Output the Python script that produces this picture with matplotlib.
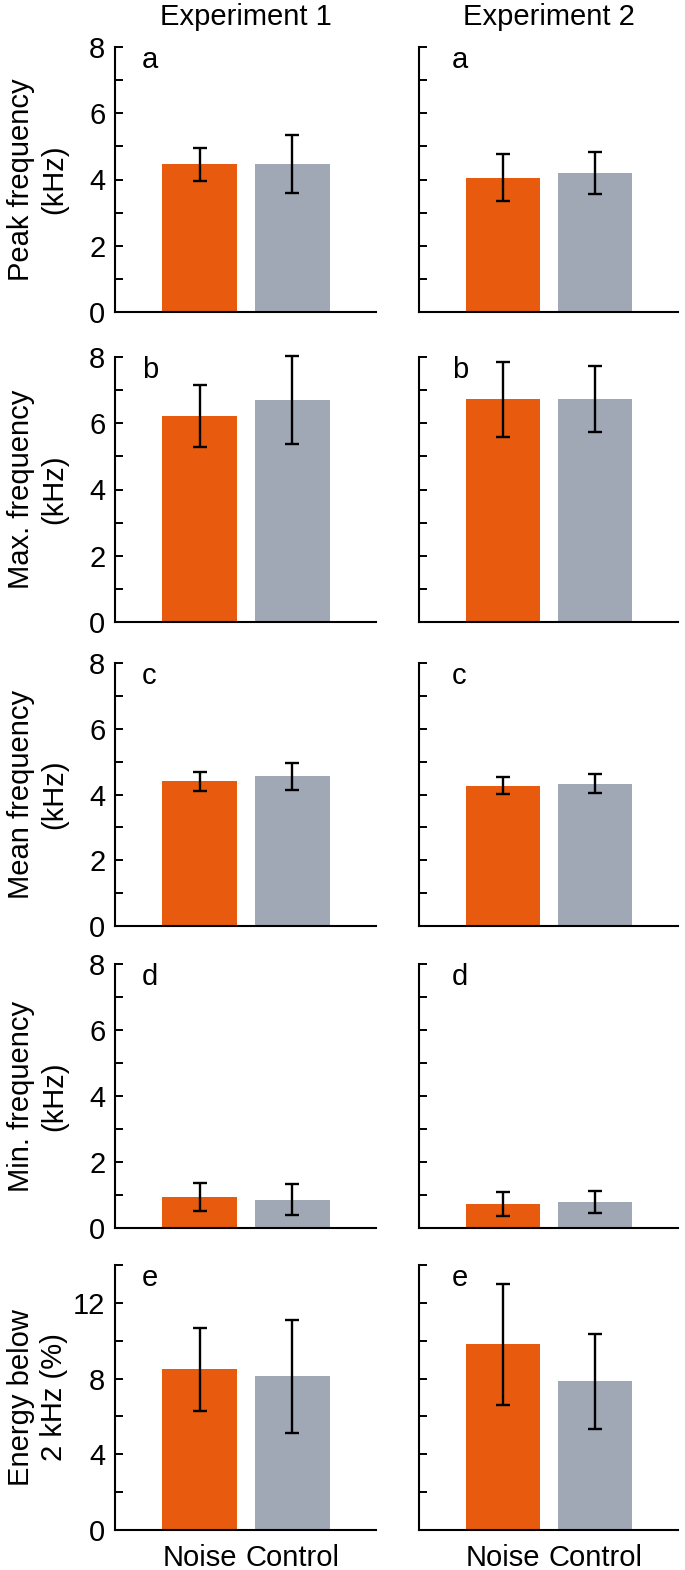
import matplotlib.pyplot as plt
from matplotlib.ticker import MultipleLocator

plt.rcParams['font.family'] = ['Liberation Sans', 'DejaVu Sans']

# Data
groups = ["Noise", "Control"]
panel_letters = ["a", "b", "c", "d", "e"]
ylabels = ["Peak frequency\n(kHz)", "Max. frequency\n(kHz)", "Mean frequency\n(kHz)",
           "Min. frequency\n(kHz)", "Energy below\n2 kHz (%)"]
columns = ["Experiment 1", "Experiment 2"]

exp1_noise = [4.46, 6.22, 4.40, 0.94, 8.48]
exp1_noise_err = [0.50, 0.93, 0.28, 0.43, 2.2]
exp1_control = [4.46, 6.71, 4.55, 0.86, 8.11]
exp1_control_err = [0.87, 1.33, 0.40, 0.46, 3.0]
exp2_noise = [4.05, 6.73, 4.27, 0.72, 9.82]
exp2_noise_err = [0.71, 1.13, 0.26, 0.37, 3.2]
exp2_control = [4.19, 6.73, 4.33, 0.79, 7.85]
exp2_control_err = [0.63, 0.99, 0.29, 0.33, 2.5]

colors = ['#E85A0E', '#A0A7B5']
FS = 21

W, H = 685, 1570
fig = plt.figure(figsize=(W / 100, H / 100), dpi=100)

# panel pixel boxes (top, bottom) per row, (left, right) per column
rows_px = [(47, 312), (357, 622), (663, 926), (964, 1228), (1265, 1530)]
cols_px = [(115, 376), (419, 678)]
letter_x = [0.103, 0.127]

data = [(exp1_noise, exp1_noise_err, exp1_control, exp1_control_err),
        (exp2_noise, exp2_noise_err, exp2_control, exp2_control_err)]

for c, (x0, x1) in enumerate(cols_px):
    noise, noise_err, ctrl, ctrl_err = data[c]
    for r, (y0, y1) in enumerate(rows_px):
        ax = fig.add_axes([x0 / W, 1 - y1 / H, (x1 - x0) / W, (y1 - y0) / H])
        bars = ax.bar([0, 1], [noise[r], ctrl[r]], width=0.80, color=colors,
                      yerr=[noise_err[r], ctrl_err[r]], capsize=4.7,
                      error_kw=dict(elinewidth=1.7, capthick=1.7, ecolor='black'))
        for art in bars.errorbar.lines:
            for a in (art if isinstance(art, tuple) else [art]):
                if a is not None:
                    a.set_clip_on(False)
        ax.set_xlim(-0.91, 1.9)
        for s in ['top', 'right']:
            ax.spines[s].set_visible(False)
        for s in ['left', 'bottom']:
            ax.spines[s].set_linewidth(1.5)
        if r == 4:
            ax.set_ylim(0, 14)
            ax.yaxis.set_major_locator(MultipleLocator(4))
            ax.yaxis.set_minor_locator(MultipleLocator(2))
        else:
            ax.set_ylim(0, 8)
            ax.yaxis.set_major_locator(MultipleLocator(2))
            ax.yaxis.set_minor_locator(MultipleLocator(1))
        ax.tick_params(axis='y', which='both', direction='in', length=5.8,
                       width=1.4, labelsize=FS, pad=7)
        ax.tick_params(axis='x', length=0, labelsize=FS, pad=10)
        ax.set_xticks([0, 1])
        if r == 4:
            ax.set_xticklabels(groups)
        else:
            ax.set_xticklabels([])
        if c == 0:
            ax.set_ylabel(ylabels[r], fontsize=FS, linespacing=1.25)
            ax.yaxis.set_label_coords(-0.18, 0.5)
        else:
            ax.set_yticklabels([])
        ax.text(letter_x[c], 0.92, panel_letters[r], transform=ax.transAxes,
                fontsize=FS, va='baseline', ha='left')
        if r == 0:
            ax.set_title(columns[c], fontsize=FS, pad=16)

fig.savefig("out.png", dpi=100)
